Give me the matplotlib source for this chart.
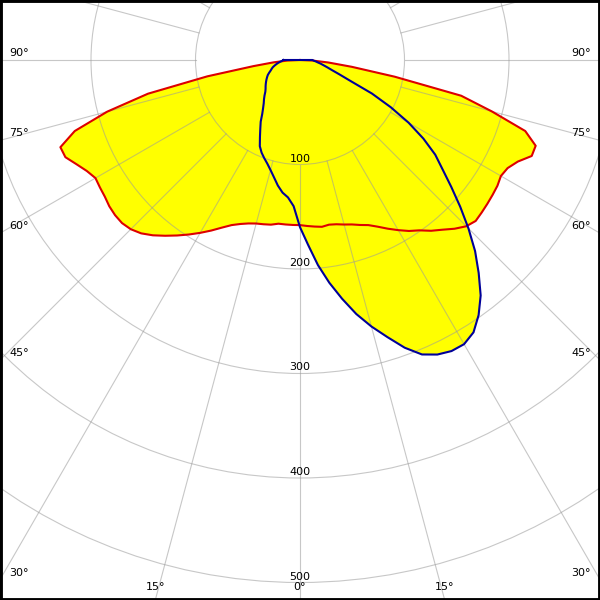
import numpy as np
import matplotlib
matplotlib.use("Agg")
import matplotlib.pyplot as plt
from matplotlib.patches import Polygon, Circle

# gamma angles (deg), negative = left half of the diagram
gamma = np.arange(-90, 90.1, 2.5)

# C0-C180 plane (red), cd/klm
c0_c180 = [0, 12, 25, 45, 90, 149, 191, 226, 244, 243, 236, 230, 226,
           227, 228, 230, 231, 231, 229, 225, 219, 212, 205, 198, 191,
           184, 177, 171, 167, 164, 162, 161, 160, 158, 158, 158, 158,
           159, 160, 161, 160, 161, 163, 165, 168, 171, 176, 182, 188,
           194, 199, 206, 212, 219, 225, 228, 227, 226, 225, 224, 222,
           224, 230, 240, 240, 226, 190, 158, 92, 50, 27, 12, 0]

# C90-C270 plane (blue), cd/klm
c90_c270 = [16, 17, 19, 21, 23, 25, 27, 28.5, 30, 32, 34, 35.5, 37,
            38.5, 40, 41.5, 43, 45, 48, 51, 54, 58, 63, 70, 76,
            83, 91, 96, 100, 104, 109, 115, 122, 128, 132, 140, 160,
            177, 197, 215, 232, 249, 264, 278, 293, 305, 311, 314, 314,
            309, 298, 284, 266, 248, 228, 208, 189, 172, 158, 140, 120,
            98, 76, 52, 40, 32, 27, 23, 20, 17, 15, 13, 12]

rings = [100, 200, 300, 400, 500, 600]
ring_labels = ["100", "200", "300", "400", "500"]
spokes = np.arange(0, 360, 15)
side_ticks = [30, 45, 60, 75, 90]
bottom_ticks = [0, 15]

PX = 1.045  # pixels per cd/klm
XMAX = 300 / PX
YTOP = 60 / PX
YBOT = -540 / PX


def to_xy(g, r):
    g = np.radians(np.asarray(g, dtype=float))
    r = np.asarray(r, dtype=float)
    return r * np.sin(g), -r * np.cos(g)


fig = plt.figure(figsize=(6, 6), dpi=100)
ax = fig.add_axes([0, 0, 1, 1])
ax.set_xlim(-XMAX, XMAX)
ax.set_ylim(YBOT, YTOP)
ax.set_aspect("equal")
ax.set_xticks([])
ax.set_yticks([])
for s in ax.spines.values():
    s.set_color("black")
    s.set_linewidth(3.5)

yellow = "#ffff00"
for vals in (c0_c180, c90_c270):
    x, y = to_xy(gamma, vals)
    ax.add_patch(Polygon(np.column_stack([x, y]), closed=True,
                         facecolor=yellow, edgecolor="none", zorder=1))

grid_kw = dict(color="#9a9a9a", alpha=0.55, lw=0.8, zorder=2)
for r in rings:
    ax.add_patch(Circle((0, 0), r, fill=False, **grid_kw))
for a in spokes:
    x, y = to_xy([a, a], [100, 800])
    ax.plot(x, y, **grid_kw)

x, y = to_xy(gamma, c0_c180)
ax.plot(x, y, color="#dd0000", lw=1.5, zorder=3)
x, y = to_xy(gamma, c90_c270)
ax.plot(np.append(x, x[0]), np.append(y, y[0]), color="#000099", lw=1.5,
        zorder=4)

for r, lab in zip(rings, ring_labels):
    ax.text(0, -r + 6 / PX, lab, ha="center", va="center",
            fontsize=8, zorder=5)

for a in side_ticks:
    yhit = -XMAX / np.tan(np.radians(a)) + 7 / PX
    ax.text(-XMAX + 9 / PX, yhit, f"{a}°", ha="left", va="center",
            fontsize=8, zorder=5)
    ax.text(XMAX - 9 / PX, yhit, f"{a}°", ha="right", va="center",
            fontsize=8, zorder=5)

for a in bottom_ticks:
    xhit = -YBOT * np.tan(np.radians(a))
    for sx in ([-1, 1] if a else [1]):
        ax.text(sx * xhit, YBOT + 13 / PX, f"{a}°", ha="center",
                va="center", fontsize=8, zorder=5)

fig.savefig("out.png", dpi=100)
